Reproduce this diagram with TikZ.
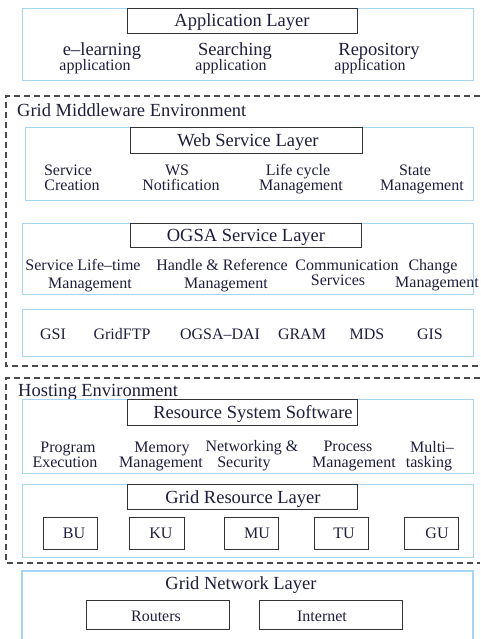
\documentclass[tikz,border=0pt]{standalone}
\usepackage{fontspec}
\setmainfont{Liberation Serif}
\definecolor{lblue}{HTML}{A6D4F5}
\definecolor{dgray}{HTML}{333333}
\definecolor{txt}{HTML}{1E1E3C}
\definecolor{dgr}{HTML}{4A4A4A}
\newcommand{\bigfs}{\fontsize{18.5}{20}\selectfont}
\newcommand{\smlfs}{\fontsize{16}{17}\selectfont}
\begin{document}
\begin{tikzpicture}[x=1pt,y=-1pt,
  outerbox/.style={draw=lblue, line width=1.1pt, anchor=north west, inner sep=0pt},
  titlebox/.style={draw=dgray, line width=1.2pt, anchor=north west, inner sep=0pt, fill=white},
  unitbox/.style={draw=dgray, line width=1.2pt, anchor=north west, inner sep=0pt},
  envline/.style={draw=dgr, line width=1.2pt, dash pattern=on 6pt off 4pt},
  ttl/.style={font=\bigfs, text=txt, inner sep=0pt, anchor=mid, yshift=-3pt},
  itm/.style={font=\smlfs, text=txt, inner sep=0pt, anchor=mid, yshift=-3pt},
  envlbl/.style={font=\bigfs, text=txt, inner sep=0pt, anchor=mid west, yshift=-3pt}]
\useasboundingbox (0,0) rectangle (480,639);

% Application layer
\node[outerbox, minimum width=451pt, minimum height=72pt] (app) at (22,8) {};
\node[titlebox, minimum width=230pt, minimum height=25pt] (appT) at (127,8) {};
\node[ttl] (appTt) at (242,21) {Application Layer};
\node[ttl] (a1) at (102,50) {e--learning};
\node[itm] (a1b) at (95,65) {application};
\node[ttl] (a2) at (235,50) {Searching};
\node[itm] (a2b) at (231,65) {application};
\node[ttl] (a3) at (379,50) {Repository};
\node[itm] (a3b) at (370,65) {application};

% Grid middleware environment
\draw[envline] (480,96) -- (6,96) -- (6,366) -- (480,366);
\node[envlbl] (gme) at (17,111) {Grid Middleware Environment};

% Web service layer
\node[outerbox, minimum width=448pt, minimum height=73pt] (ws) at (25,127) {};
\node[titlebox, minimum width=232pt, minimum height=26pt] (wsT) at (130,127) {};
\node[ttl] (wsTt) at (248,141) {Web Service Layer};
\node[itm] (w1) at (68,170) {Service};
\node[itm] (w1b) at (72,185) {Creation};
\node[itm] (w2) at (177,170) {WS};
\node[itm] (w2b) at (181,185) {Notification};
\node[itm] (w3) at (298,170) {Life cycle};
\node[itm] (w3b) at (301,185) {Management};
\node[itm] (w4) at (415,170) {State};
\node[itm] (w4b) at (422,185) {Management};

% OGSA service layer
\node[outerbox, minimum width=451pt, minimum height=71pt] (og) at (22,223) {};
\node[titlebox, minimum width=231pt, minimum height=24pt] (ogT) at (130,223) {};
\node[ttl] (ogTt) at (246,236) {OGSA Service Layer};
\node[itm] (o1) at (83,265) {Service Life--time};
\node[itm] (o1b) at (90,283) {Management};
\node[itm] (o2) at (222,265) {Handle \& Reference};
\node[itm] (o2b) at (226,283) {Management};
\node[itm] (o3) at (347,265) {Communication};
\node[itm] (o3b) at (338,280) {Services};
\node[itm] (o4) at (433,265) {Change};
\node[itm] (o4b) at (437,282) {Management};

% Services row
\node[outerbox, minimum width=451pt, minimum height=47pt] (sv) at (22,309) {};
\node[itm] (s1) at (53,334) {GSI};
\node[itm] (s2) at (122,334) {GridFTP};
\node[itm] (s3) at (220,334) {OGSA--DAI};
\node[itm] (s4) at (302,334) {GRAM};
\node[itm] (s5) at (367,334) {MDS};
\node[itm] (s6) at (430,334) {GIS};

% Hosting environment
\draw[envline] (480,378) -- (6,378) -- (6,563) -- (480,563);
\node[envlbl] (he) at (18,391) {Hosting Environment};

% Resource system software
\node[outerbox, minimum width=451pt, minimum height=74pt] (rs) at (22,399) {};
\node[titlebox, minimum width=230pt, minimum height=26pt] (rsT) at (127,399) {};
\node[ttl] (rsTt) at (253,413) {Resource System Software};
\node[itm] (r1) at (68,447) {Program};
\node[itm] (r1b) at (65,462) {Execution};
\node[itm] (r2) at (162,447) {Memory};
\node[itm] (r2b) at (161,462) {Management};
\node[itm] (r3) at (252,446) {Networking \&};
\node[itm] (r3b) at (244,462) {Security};
\node[itm] (r4) at (348,446) {Process};
\node[itm] (r4b) at (354,462) {Management};
\node[itm] (r5) at (432,447) {Multi--};
\node[itm] (r5b) at (429,462) {tasking};

% Grid resource layer
\node[outerbox, minimum width=451pt, minimum height=73pt] (gr) at (22,484) {};
\node[titlebox, minimum width=230pt, minimum height=25pt] (grT) at (127,484) {};
\node[ttl] (grTt) at (243,498) {Grid Resource Layer};
\node[unitbox, minimum width=54pt, minimum height=32pt] (bu) at (43,517) {};
\node[itm] (butx) at (74,533) {BU};
\node[unitbox, minimum width=55pt, minimum height=32pt] (ku) at (129,517) {};
\node[itm] (kutx) at (161,533) {KU};
\node[unitbox, minimum width=54pt, minimum height=32pt] (mu) at (224,517) {};
\node[itm] (mutx) at (257,533) {MU};
\node[unitbox, minimum width=54pt, minimum height=32pt] (tu) at (314,517) {};
\node[itm] (tutx) at (344,533) {TU};
\node[unitbox, minimum width=54pt, minimum height=32pt] (gu) at (404,517) {};
\node[itm] (gutx) at (437,533) {GU};

% Grid network layer
\draw[draw=lblue, line width=1.1pt] (22,639) -- (22,571) -- (473,571) -- (473,639);
\node[ttl] (gn) at (241,584) {Grid Network Layer};
\node[unitbox, minimum width=143pt, minimum height=29pt] (rt) at (86,600) {};
\node[itm] (rttx) at (156,616) {Routers};
\node[unitbox, minimum width=143pt, minimum height=29pt] (in) at (259,600) {};
\node[itm] (intx) at (322,616) {Internet};
\end{tikzpicture}
\end{document}
